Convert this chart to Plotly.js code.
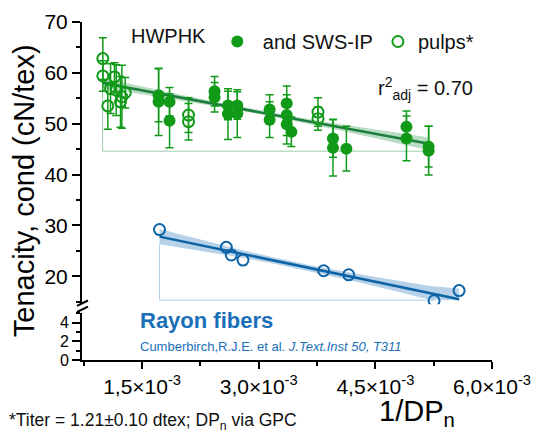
<!DOCTYPE html>
<html><head><meta charset="utf-8">
<script src="https://cdn.plot.ly/plotly-3.0.1.min.js"></script>
<style>html,body{margin:0;padding:0;background:#fff}#chart{width:539px;height:433px}</style>
</head><body><div id="chart"></div>
<script>
// x values in units of 1e-3 (1/DPn), scaled below
const filledX = [1.712,1.712,1.853,1.853,2.432,2.432,2.604,2.604,2.724,2.724,3.14,3.14,3.36,3.36,3.36,3.42,3.955,3.955,4.127,4.9,4.9,5.185,5.185];
const filledY = [55.6,54.3,54.3,50.6,56.4,55.2,53.6,51.9,53.6,52.0,52.8,50.8,54.0,51.7,49.9,48.4,47.1,45.3,45.1,49.4,47.1,45.5,44.7];
const filledErr = [5.2,6.6,2.8,5.3,2.9,2.9,2.8,5.0,2.7,4.7,2.9,3.5,3.4,4.0,3.9,2.9,3.7,5.6,4.4,3.1,4.4,4.0,4.8];

const openX = [0.995,0.995,1.059,1.094,1.145,1.167,1.222,1.24,1.283,2.097,2.097,3.762,3.762];
const openY = [62.8,59.4,53.5,56.9,59.2,56.6,54.3,55.3,56.1,51.7,50.4,52.3,51.0];
const openErr = [4.1,3.0,4.6,4.9,2.8,5.0,5.0,6.2,3.0,3.4,3.6,2.8,2.3];

const rayonX = [1.724,2.583,2.647,2.797,3.835,4.157,5.255,5.577];
const rayonY = [29.2,25.7,24.2,23.2,21.1,20.3,15.2,17.2];

const pulpFitX = [0.992,5.171];
const pulpFitY = [58.0,46.1];
const pulpBandX = [0.992,1.5,2.0,2.5,3.0,3.5,4.0,4.5,5.171];
const pulpBandUp = [59.0,57.3,55.68,54.13,52.66,51.28,50.04,48.86,47.35];
const pulpBandLo = [57.0,55.8,54.58,53.29,51.9,50.44,48.84,47.16,44.85];
const pulpBaseX = [0.992,0.992,5.171];
const pulpBaseY = [57.0,44.6,44.6];

const rayonFitX = [1.724,5.577];
const rayonFitY = [27.8,15.5];
const rayonBandX = [1.724,2.2,2.7,3.2,3.7,4.2,4.7,5.2,5.577];
const rayonBandUp = [29.3,27.38,25.48,23.69,22.09,20.65,19.3,18.1,17.6];
const rayonBandLo = [26.3,25.18,23.88,22.49,20.89,19.15,17.3,15.4,15.3];
const rayonBaseX = [1.724,1.724,5.26];
const rayonBaseY = [26.3,15.3,15.3];

const xTickVals = [1.5,3.0,4.5,6.0];
const xTickText = ['1,5×10<sup>-3</sup>','3,0×10<sup>-3</sup>','4,5×10<sup>-3</sup>','6,0×10<sup>-3</sup>'];
const xMinorVals = [0.75,2.25,3.75,5.25];
const yUpTicks = [20,30,40,50,60,70];
const yLoTicks = [0,2,4];

const S = v => v.map(a => a*1e-3);
const FONT = 'Liberation Sans, Arial, sans-serif';
const GREEN = '#109a18';
const GFIT = '#1d7d3d';
const BLUE = '#0c63a6';

const traces = [
  // invisible carrier so the lower (broken) axis segment gets a subplot
  {x:S(rayonX), y:rayonY, yaxis:'y', mode:'markers', marker:{opacity:0}, showlegend:false, hoverinfo:'skip'},
  {x:S(pulpBandX), y:pulpBandLo, yaxis:'y2', mode:'lines', line:{width:0}, showlegend:false, hoverinfo:'skip'},
  {x:S(pulpBandX), y:pulpBandUp, yaxis:'y2', mode:'lines', line:{width:0}, fill:'tonexty', fillcolor:'rgba(70,165,100,0.38)', showlegend:false, hoverinfo:'skip'},
  {x:S(pulpBaseX), y:pulpBaseY, yaxis:'y2', mode:'lines', line:{width:1, color:'rgba(110,185,135,0.7)'}, showlegend:false},
  {x:S(rayonBandX), y:rayonBandLo, yaxis:'y2', mode:'lines', line:{width:0}, showlegend:false, hoverinfo:'skip'},
  {x:S(rayonBandX), y:rayonBandUp, yaxis:'y2', mode:'lines', line:{width:0}, fill:'tonexty', fillcolor:'rgba(95,155,205,0.45)', showlegend:false, hoverinfo:'skip'},
  {x:S(rayonBaseX), y:rayonBaseY, yaxis:'y2', mode:'lines', line:{width:1, color:'rgba(150,190,225,0.75)'}, showlegend:false},
  {x:S(pulpFitX), y:pulpFitY, yaxis:'y2', mode:'lines', line:{width:2.5, color:GFIT}, showlegend:false},
  {x:S(rayonFitX), y:rayonFitY, yaxis:'y2', mode:'lines', line:{width:2.5, color:BLUE}, showlegend:false},
  {x:S(filledX), y:filledY, yaxis:'y2', mode:'markers', name:'\u00a0and SWS-IP',
   marker:{symbol:'circle', size:12, color:GREEN},
   error_y:{type:'data', array:filledErr, color:GREEN, thickness:1.5, width:4}},
  {x:S(openX), y:openY, yaxis:'y2', mode:'markers', name:'pulps*',
   marker:{symbol:'circle-open', size:11, color:GREEN, line:{width:2, color:GREEN}},
   error_y:{type:'data', array:openErr, color:GREEN, thickness:1.5, width:4}},
  {x:S(rayonX), y:rayonY, yaxis:'y2', mode:'markers', showlegend:false,
   marker:{symbol:'circle-open', size:11, color:BLUE, line:{width:2, color:BLUE}}}
];

const axisCommon = {showline:true, linewidth:2, linecolor:'#000', ticks:'outside', tickwidth:2,
  tickcolor:'#000', showgrid:false, zeroline:false, tickfont:{size:21, color:'#000', family:FONT}};

const layout = {
  width:539, height:433,
  margin:{l:82, r:47, t:22, b:73},
  paper_bgcolor:'#fff', plot_bgcolor:'#fff',
  font:{family:FONT, color:'#000'},
  showlegend:true,
  legend:{orientation:'h', x:0.33, y:1.0, xanchor:'left', yanchor:'top', font:{size:20, family:FONT, color:'#111'},
          bgcolor:'rgba(0,0,0,0)', traceorder:'normal'},
  xaxis:Object.assign({}, axisCommon, {range:[0.727e-3, 6.0e-3], anchor:'y', tickmode:'array',
    tickvals:S(xTickVals), ticktext:xTickText, ticklen:7, tickfont:{size:21, color:'#000', family:FONT},
    minor:{tickmode:'array', tickvals:S(xMinorVals), ticklen:4, tickwidth:2, tickcolor:'#000', ticks:'outside'}}),
  yaxis:Object.assign({}, axisCommon, {domain:[0,0.1379], range:[0,5], anchor:'x', tickmode:'array',
    tickvals:yLoTicks, ticklen:8, tickfont:{size:16, color:'#000', family:FONT},
    minor:{dtick:1, ticklen:4, tickwidth:2, tickcolor:'#000', ticks:'outside'}}),
  yaxis2:Object.assign({}, axisCommon, {domain:[0.1648,1], range:[14.5,70], anchor:'x', tickmode:'array',
    tickvals:yUpTicks, ticklen:8, minor:{dtick:5, tick0:15, ticklen:4, tickwidth:2, tickcolor:'#000', ticks:'outside'}}),
  shapes:[
    {type:'line', xref:'paper', yref:'paper', x0:-0.0122, y0:0.142, x1:0.0146, y1:0.158, line:{color:'#000', width:2}},
    {type:'line', xref:'paper', yref:'paper', x0:-0.0122, y0:0.160, x1:0.0146, y1:0.176, line:{color:'#000', width:2}}
  ],
  annotations:[
    {text:'Tenacity, cond (cN/tex)', xref:'paper', yref:'paper', x:-0.141, y:0.5, textangle:-90, showarrow:false,
     font:{size:29, color:'#000', family:FONT}, xanchor:'center', yanchor:'middle'},
    {text:'1/DP<sub>n</sub>', xref:'paper', yref:'paper', x:0.817, y:-0.158, showarrow:false,
     font:{size:29, color:'#000', family:FONT}, xanchor:'center', yanchor:'middle'},
    {text:'HWPHK', xref:'paper', yref:'paper', x:0.2105, y:0.9586, showarrow:false,
     font:{size:20, color:'#111', family:FONT}, xanchor:'center', yanchor:'middle'},
    {text:'r<sup>2</sup><sub>adj</sub> = 0.70', xref:'paper', yref:'paper', x:0.717, y:0.8047, showarrow:false,
     font:{size:20, color:'#111', family:FONT}, xanchor:'left', yanchor:'middle'},
    {text:'<b>Rayon fibers</b>', xref:'paper', yref:'paper', x:0.137, y:0.1154, showarrow:false,
     font:{size:22, color:'#1a70b8', family:FONT}, xanchor:'left', yanchor:'middle'},
    {text:'Cumberbirch,R.J.E. et al. <i>J.Text.Inst 50, T311</i>', xref:'paper', yref:'paper', x:0.1354, y:0.0385, showarrow:false,
     font:{size:13, color:'#1a70b8', family:FONT}, xanchor:'left', yanchor:'middle'},
    {text:'*Titer = 1.21±0.10 dtex; DP<sub>n</sub> via GPC', xref:'paper', yref:'paper', x:-0.183, y:-0.183, showarrow:false,
     font:{size:17.5, color:'#111', family:FONT}, xanchor:'left', yanchor:'middle'}
  ]
};

Plotly.newPlot('chart', traces, layout, {displayModeBar:false, staticPlot:true});
</script></body></html>
